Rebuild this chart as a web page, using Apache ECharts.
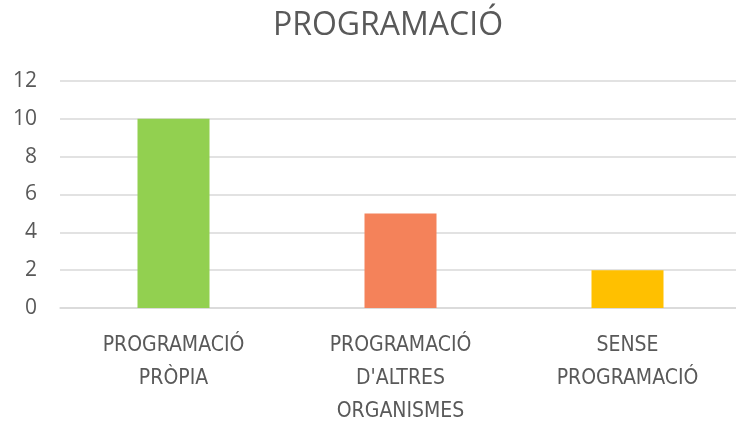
<!DOCTYPE html>
<html>
<head>
<meta charset="utf-8">
<script src="https://cdn.jsdelivr.net/npm/echarts@6/dist/echarts.min.js"></script>
<style>
  html, body { margin: 0; padding: 0; background: #fff; }
  #chart { width: 736px; height: 424px; }
</style>
</head>
<body>
<div id="chart"></div>
<script>
var categories = [
  'PROGRAMACIÓ\nPRÒPIA',
  "PROGRAMACIÓ\nD'ALTRES\nORGANISMES",
  'SENSE\nPROGRAMACIÓ'
];
var values = [10, 5, 2];
var barColors = ['#92D050', '#F4825A', '#FFC000'];
var yMin = 0;
var yMax = 12;
var yStep = 2;

var chartDom = document.getElementById('chart');
var myChart = echarts.init(chartDom);

var option = {
  animation: false,
  title: {
    text: 'PROGRAMACIÓ',
    left: 383,
    textAlign: 'center',
    top: 5,
    textStyle: {
      fontFamily: 'Open Sans',
      fontSize: 32,
      fontWeight: 'normal',
      color: '#595959'
    }
  },
  grid: {
    left: 60,
    top: 81,
    width: 681,
    height: 227,
    outerBoundsMode: 'none'
  },
  xAxis: {
    type: 'category',
    data: categories,
    axisLine: { lineStyle: { color: '#D9D9D9', width: 1.5 } },
    axisTick: { show: false },
    axisLabel: {
      interval: 0,
      margin: 21,
      fontFamily: 'DejaVu Sans Condensed, sans-serif',
      fontSize: 21,
      lineHeight: 33,
      color: '#595959'
    }
  },
  yAxis: {
    type: 'value',
    min: yMin,
    max: yMax,
    interval: yStep,
    axisLine: { show: false },
    axisTick: { show: false },
    splitLine: { lineStyle: { color: '#D9D9D9', width: 1.5 } },
    axisLabel: {
      margin: 23,
      fontFamily: 'Open Sans',
      fontSize: 21,
      color: '#595959'
    }
  },
  series: [
    {
      type: 'bar',
      barWidth: 72,
      data: values.map(function (v, i) {
        return { value: v, itemStyle: { color: barColors[i] } };
      })
    }
  ]
};

myChart.setOption(option);
</script>
</body>
</html>
